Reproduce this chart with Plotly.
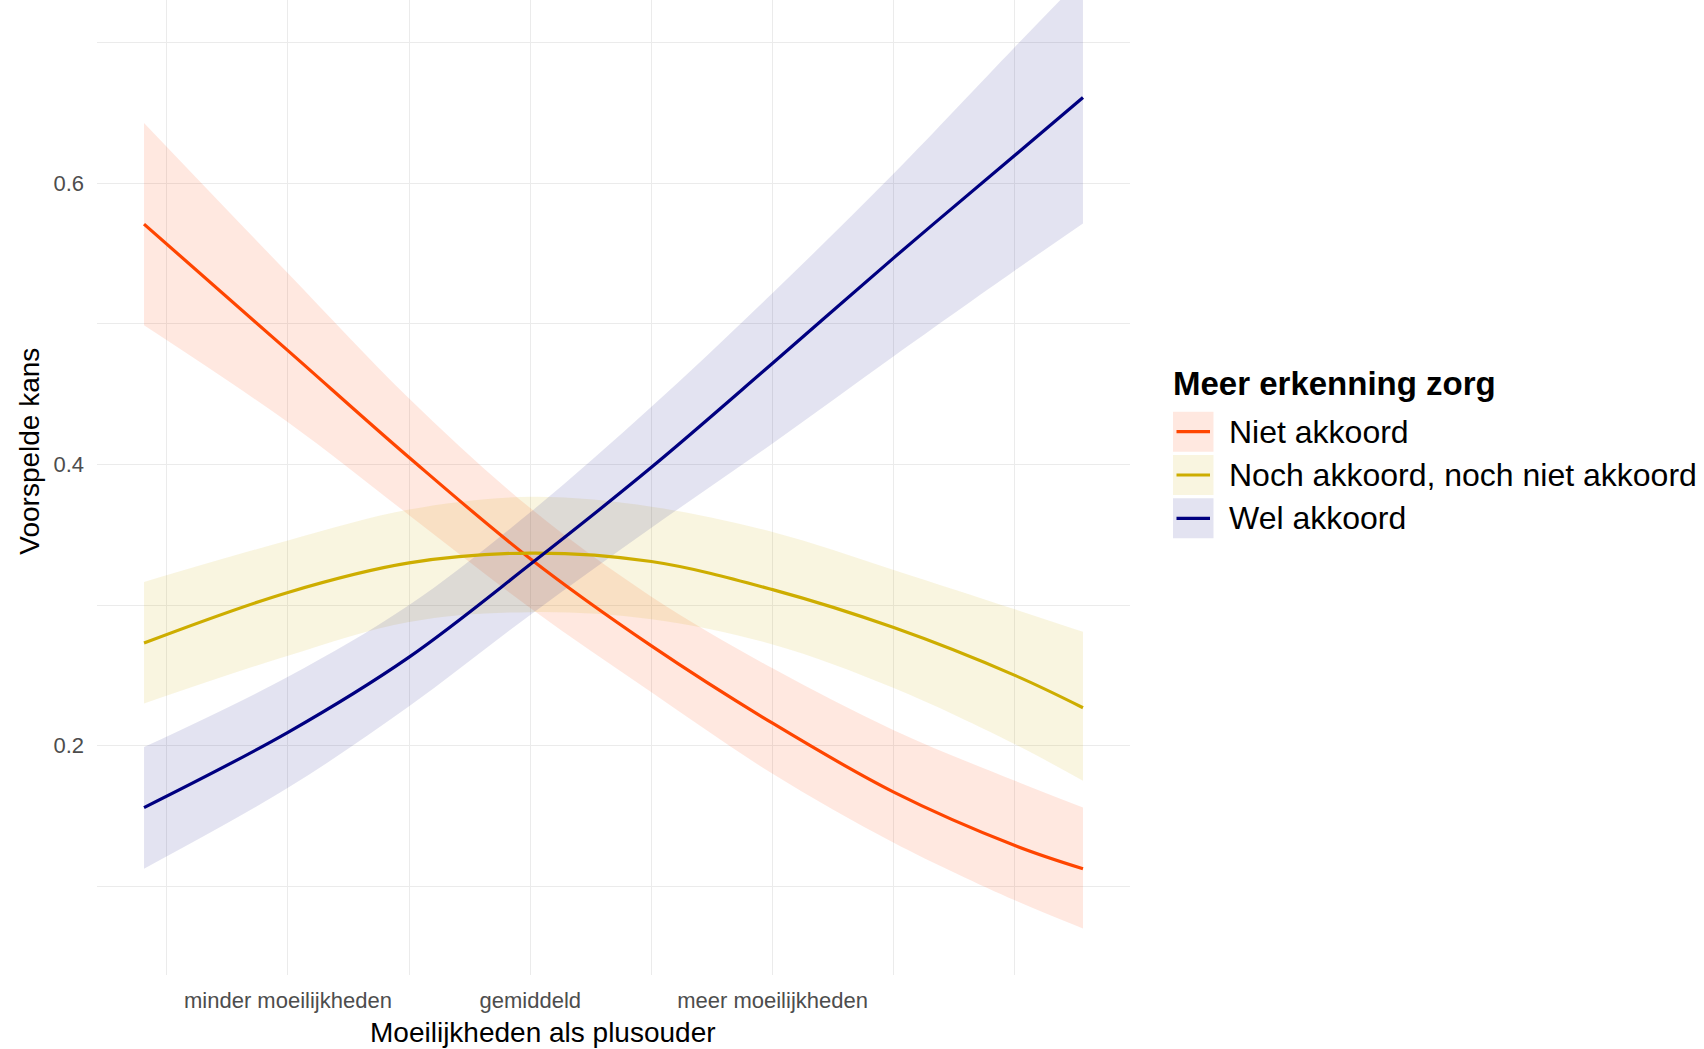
import plotly.graph_objects as go

# ---------------- data ----------------
x_vals = [-1.594, -1.0, -0.5, 0.0, 0.5, 1.0, 1.5, 2.0, 2.281]

series_names = ["Niet akkoord", "Noch akkoord, noch niet akkoord", "Wel akkoord"]

niet_mean  = [0.571, 0.481, 0.405, 0.333, 0.271, 0.216, 0.167, 0.129, 0.1125]
niet_upper = [0.643, 0.536, 0.447, 0.369, 0.306, 0.255, 0.211, 0.175, 0.156]
niet_lower = [0.499, 0.430, 0.364, 0.298, 0.238, 0.180, 0.131, 0.090, 0.070]

noch_mean  = [0.273, 0.309, 0.330, 0.337, 0.331, 0.311, 0.284, 0.250, 0.227]
noch_upper = [0.3165, 0.346, 0.368, 0.377, 0.370, 0.352, 0.325, 0.297, 0.281]
noch_lower = [0.230, 0.264, 0.288, 0.295, 0.290, 0.272, 0.241, 0.201, 0.175]

wel_mean  = [0.156, 0.2095, 0.263, 0.329, 0.398, 0.472, 0.547, 0.620, 0.661]
wel_upper = [0.199, 0.249, 0.300, 0.366, 0.441, 0.522, 0.607, 0.697, 0.747]
wel_lower = [0.1125, 0.170, 0.228, 0.293, 0.355, 0.415, 0.477, 0.538, 0.5715]

x_tick_vals = [-1, 0, 1, 2]
x_tick_text = ["minder moeilijkheden", "gemiddeld", "meer moeilijkheden", ""]
x_minor_vals = [-1.5, -0.5, 0.5, 1.5]
y_tick_vals = [0.2, 0.4, 0.6]
y_tick_text = ["0.2", "0.4", "0.6"]
y_minor_vals = [0.1, 0.3, 0.5, 0.7]

legend_title = "Meer erkenning zorg"
x_title = "Moeilijkheden als plusouder"
y_title = "Voorspelde kans"

# ---------------- styling ----------------
line_colors = ["#FF4500", "#CDAD00", "#000080"]
fill_colors = ["rgba(255,69,0,0.12)", "rgba(205,173,0,0.12)", "rgba(0,0,128,0.11)"]
FONT = "Liberation Sans, Arial, sans-serif"
GRID = "#EBEBEB"

W, H = 1704, 1049
L, R, T, B = 97, 574, 0, 74
PW, PH = W - L - R, H - T - B


def px(x):
    return (x - L) / PW


def py(y):
    return 1 - (y - T) / PH


means = [niet_mean, noch_mean, wel_mean]
uppers = [niet_upper, noch_upper, wel_upper]
lowers = [niet_lower, noch_lower, wel_lower]

fig = go.Figure()

# ribbons
for name, lo, up, fc in zip(series_names, lowers, uppers, fill_colors):
    fig.add_trace(go.Scatter(x=x_vals, y=lo, mode="lines",
                             line=dict(width=0, shape="spline", smoothing=1),
                             showlegend=False, hoverinfo="skip"))
    fig.add_trace(go.Scatter(x=x_vals, y=up, mode="lines", fill="tonexty",
                             fillcolor=fc,
                             line=dict(width=0, shape="spline", smoothing=1),
                             showlegend=False, hoverinfo="skip"))

# lines
for name, m, lc in zip(series_names, means, line_colors):
    fig.add_trace(go.Scatter(x=x_vals, y=m, mode="lines", name=name,
                             line=dict(color=lc, width=3.2, shape="spline", smoothing=1),
                             showlegend=False))

# ---------------- custom ggplot-like legend ----------------
shapes = []
annotations = []
row_y = [431.7, 475.0, 518.3]
box_x0, box_x1 = 1173, 1213.5
for i, name in enumerate(series_names):
    cy = row_y[i]
    shapes.append(dict(type="rect", xref="paper", yref="paper",
                       x0=px(box_x0), x1=px(box_x1), y0=py(cy - 20), y1=py(cy + 20),
                       fillcolor=fill_colors[i], line=dict(width=0), layer="above"))
    shapes.append(dict(type="line", xref="paper", yref="paper",
                       x0=px(1176.5), x1=px(1210), y0=py(cy), y1=py(cy),
                       line=dict(color=line_colors[i], width=3.2), layer="above"))
    annotations.append(dict(text=name, xref="paper", yref="paper",
                            x=px(1227), y=py(cy), xanchor="left", yanchor="middle",
                            showarrow=False, font=dict(family=FONT, size=32, color="black")))

annotations.append(dict(text="<b>" + legend_title + "</b>", xref="paper", yref="paper",
                        x=px(1171), y=py(383), xanchor="left", yanchor="middle",
                        showarrow=False, font=dict(family=FONT, size=33, color="black")))

# axis titles
annotations.append(dict(text=x_title, xref="paper", yref="paper",
                        x=px(543), y=py(1032), xanchor="center", yanchor="middle",
                        showarrow=False, font=dict(family=FONT, size=28, color="black")))
annotations.append(dict(text=y_title, xref="paper", yref="paper",
                        x=px(30), y=py(451.7), xanchor="center", yanchor="middle",
                        textangle=-90, showarrow=False,
                        font=dict(family=FONT, size=28, color="black")))

fig.update_layout(
    width=W, height=H,
    margin=dict(l=L, r=R, t=T, b=B, pad=0),
    paper_bgcolor="white", plot_bgcolor="white",
    showlegend=False,
    shapes=shapes, annotations=annotations,
    font=dict(family=FONT),
)

fig.update_xaxes(
    range=[-1.788, 2.475], tickmode="array", tickvals=x_tick_vals, ticktext=x_tick_text,
    showgrid=True, gridcolor=GRID, gridwidth=1.4, zeroline=False, showline=False,
    ticks="", ticklabelstandoff=10,
    tickfont=dict(family=FONT, size=22, color="#4D4D4D"),
    minor=dict(tickvals=x_minor_vals, showgrid=True, gridcolor=GRID, gridwidth=1.2, ticks=""),
)
fig.update_yaxes(
    range=[0.0369, 0.7304], tickmode="array", tickvals=y_tick_vals, ticktext=y_tick_text,
    showgrid=True, gridcolor=GRID, gridwidth=1.4, zeroline=False, showline=False,
    ticks="", ticklabelstandoff=12,
    tickfont=dict(family=FONT, size=22, color="#4D4D4D"),
    minor=dict(tickvals=y_minor_vals, showgrid=True, gridcolor=GRID, gridwidth=1.2, ticks=""),
)

fig.write_html(
    "out.html",
    config={"displayModeBar": False},
    post_script="document.body.style.margin='0px';document.body.style.padding='0px';"
                "document.body.style.overflow='hidden';",
)
